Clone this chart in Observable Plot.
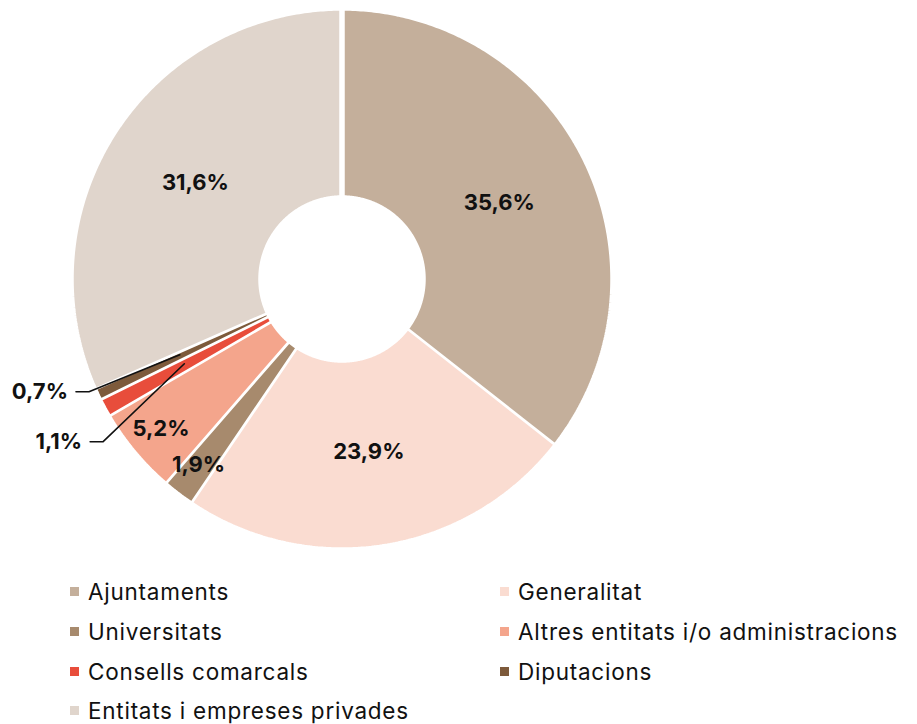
<!DOCTYPE html>
<html><head><meta charset="utf-8">
<script src="https://cdn.jsdelivr.net/npm/d3@7"></script>
<script src="https://cdn.jsdelivr.net/npm/@observablehq/plot@0.6"></script>
<style>
body{margin:0;background:#fff;font-family:Inter,"Noto Sans",sans-serif;}
#chart svg{display:block}
#legend{display:grid;grid-template-columns:430px 420px;margin-left:70px;}
.item{display:flex;align-items:center;height:39.7px;font-size:22.5px;letter-spacing:0.75px;color:#111;white-space:nowrap;}
.sw{width:9px;height:9px;margin-right:9px;flex:none}
</style>
</head><body>
<div id="chart"></div>
<div id="legend"></div>
<script>
const categories = ["Ajuntaments","Generalitat","Universitats","Altres entitats i/o administracions","Consells comarcals","Diputacions","Entitats i empreses privades"];
const values = [35.6, 23.9, 1.9, 5.2, 1.1, 0.7, 31.6];
const colors = ["#c4af9b","#fadcd1","#a78a6d","#f4a58c","#e84d3b","#7d5a3b","#e0d5cc"];
const labels = values.map(v => v.toFixed(1).replace(".", ",") + "%");

const W = 917, H = 572;
const cx = 341.5, cy = 278.5, R = 271, r0 = 81;
const polar = (a, r) => [cx + r * Math.sin(a), cy - r * Math.cos(a)];

const arcs = d3.pie().sort(null).value(d => d)(values);

const slicePts = [];
arcs.forEach((a, i) => {
  const n = Math.max(2, Math.ceil((a.endAngle - a.startAngle) / 0.01));
  for (let k = 0; k <= n; k++) {
    const t = a.startAngle + (a.endAngle - a.startAngle) * k / n;
    const [x, y] = polar(t, R);
    slicePts.push({cat: categories[i], x, y});
  }
  for (let k = n; k >= 0; k--) {
    const t = a.startAngle + (a.endAngle - a.startAngle) * k / n;
    const [x, y] = polar(t, r0);
    slicePts.push({cat: categories[i], x, y});
  }
});

const outside = {4: {da: -6, r: 289}, 5: {da: 1, r: 277}};
const inLabels = [], outLabels = [], leaders = [];
arcs.forEach((a, i) => {
  const mid = (a.startAngle + a.endAngle) / 2;
  if (outside[i]) {
    const o = outside[i];
    const [sx, sy] = polar(mid, 179);
    const [ex, ey] = polar(mid + o.da * Math.PI / 180, o.r);
    leaders.push({cat: categories[i], x: sx, y: sy});
    leaders.push({cat: categories[i], x: ex, y: ey});
    leaders.push({cat: categories[i], x: ex - 13, y: ey});
    outLabels.push({x: ex - 21, y: ey, text: labels[i]});
  } else {
    const rr = values[i] < 6 ? 235 : 175;
    const [x, y] = polar(mid, rr);
    inLabels.push({x, y, text: labels[i]});
  }
});

const marks = categories.map((c, i) => Plot.line(slicePts.filter(p => p.cat === c), {
  x: "x", y: "y", fill: colors[i], stroke: "white", strokeWidth: 5.5, strokeLinejoin: "miter"
}));
marks.push(Plot.line(leaders, {x: "x", y: "y", z: "cat", stroke: "#111", strokeWidth: 1.6}));
marks.push(Plot.text(inLabels, {x: "x", y: "y", text: "text", fontWeight: 700, fontSize: 22, fill: "#111"}));
marks.push(Plot.text(outLabels, {x: "x", y: "y", text: "text", fontWeight: 700, fontSize: 22, fill: "#111", textAnchor: "end"}));

const chart = Plot.plot({
  width: W, height: H, margin: 0,
  x: {domain: [0, W], range: [0, W], axis: null},
  y: {domain: [0, H], range: [0, H], axis: null},
  style: {fontFamily: "Inter, 'Noto Sans', sans-serif", background: "white"},
  marks
});
document.getElementById("chart").appendChild(chart);

const legend = document.getElementById("legend");
categories.forEach((c, i) => {
  const d = document.createElement("div");
  d.className = "item";
  d.innerHTML = `<span class="sw" style="background:${colors[i]}"></span><span>${c}</span>`;
  legend.appendChild(d);
});
</script>
</body></html>
